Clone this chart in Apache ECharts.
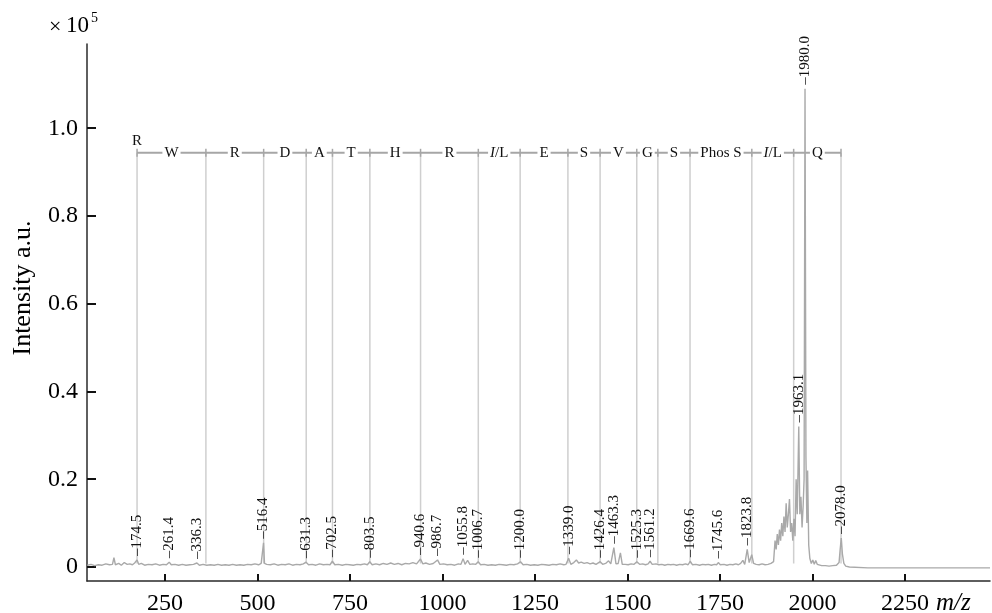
<!DOCTYPE html>
<html>
<head>
<meta charset="utf-8">
<script src="https://cdn.jsdelivr.net/npm/echarts@6/dist/echarts.min.js"></script>
<style>
html, body { margin: 0; padding: 0; background: #fff; }
#main { width: 992px; height: 613px; }
</style>
</head>
<body>
<div id="main"></div>
<script>
// axis ticks: m/z and intensity (x1e5)
var xTicks = [250, 500, 750, 1000, 1250, 1500, 1750, 2000, 2250];
var yTicks = [0, 0.2, 0.4, 0.6, 0.8, 1.0];

// spectrum trace [m/z, intensity x1e5]
var spectrum = [
  [40,0.004],[50,0.006],[60,0.003],[70,0.005],[80,0.004],[90,0.007],[100,0.005],[108,0.006],[112,0.021],[116,0.005],
  [125,0.008],[132,0.004],[140,0.01],[148,0.006],[155,0.007],[162,0.005],[168,0.009],[174.5,0.016],[179,0.006],[186,0.008],
  [195,0.004],[205,0.006],[215,0.005],[225,0.007],[235,0.004],[245,0.006],[254,0.005],[261.4,0.011],[267,0.005],[277,0.006],
  [287,0.004],[297,0.006],[307,0.004],[317,0.005],[327,0.006],[336.3,0.009],[343,0.004],[353,0.006],[363,0.004],[373,0.005],
  [383,0.004],[393,0.006],[403,0.004],[413,0.005],[423,0.004],[433,0.006],[443,0.004],[453,0.005],[463,0.004],[473,0.006],
  [483,0.005],[493,0.007],[503,0.005],[510,0.008],[514,0.01],[516.4,0.055],[519,0.008],[525,0.006],[535,0.005],[545,0.007],
  [555,0.004],[565,0.006],[575,0.005],[585,0.007],[595,0.004],[605,0.006],[615,0.005],[624,0.007],[631.3,0.011],[638,0.005],
  [648,0.006],[658,0.004],[668,0.007],[678,0.005],[688,0.006],[696,0.005],[702.5,0.013],[709,0.005],[719,0.006],[729,0.004],
  [739,0.006],[749,0.005],[759,0.004],[769,0.006],[779,0.005],[789,0.007],[797,0.005],[803.5,0.012],[810,0.005],[820,0.007],
  [830,0.005],[840,0.008],[850,0.006],[860,0.009],[870,0.006],[880,0.008],[890,0.005],[900,0.008],[910,0.007],[920,0.01],
  [930,0.007],[940.6,0.018],[947,0.007],[955,0.009],[965,0.006],[975,0.008],[986.7,0.016],[993,0.006],[1003,0.007],[1013,0.005],
  [1023,0.006],[1033,0.004],[1043,0.007],[1050,0.006],[1055.8,0.019],[1061,0.006],[1068,0.015],[1074,0.006],[1082,0.007],[1090,0.006],
  [1096.7,0.012],[1103,0.005],[1113,0.006],[1123,0.004],[1133,0.005],[1143,0.004],[1153,0.006],[1163,0.005],[1173,0.004],[1183,0.006],
  [1193,0.005],[1203,0.007],[1211,0.012],[1218,0.005],[1228,0.006],[1238,0.004],[1248,0.005],[1258,0.004],[1268,0.006],[1278,0.005],
  [1288,0.004],[1298,0.006],[1308,0.005],[1318,0.007],[1328,0.005],[1334,0.006],[1341,0.02],[1347,0.006],[1355,0.01],[1362,0.016],
  [1368,0.009],[1375,0.011],[1383,0.008],[1391,0.01],[1399,0.007],[1407,0.009],[1415,0.006],[1426.4,0.012],[1433,0.006],[1441,0.008],
  [1449,0.014],[1455,0.007],[1463.3,0.044],[1469,0.007],[1475,0.008],[1481,0.032],[1486,0.006],[1494,0.006],[1502,0.005],[1510,0.007],
  [1518,0.006],[1525.3,0.012],[1533,0.006],[1541,0.007],[1549,0.005],[1556,0.007],[1561.2,0.013],[1567,0.006],[1577,0.007],[1585,0.005],
  [1593,0.006],[1601,0.004],[1609,0.006],[1617,0.005],[1625,0.006],[1633,0.004],[1641,0.006],[1649,0.005],[1657,0.007],[1664,0.005],
  [1669.6,0.013],[1676,0.005],[1685,0.006],[1695,0.004],[1703,0.006],[1711,0.005],[1719,0.006],[1727,0.004],[1735,0.006],[1741,0.005],
  [1745.6,0.01],[1751,0.005],[1761,0.006],[1769,0.004],[1777,0.006],[1785,0.005],[1793,0.007],[1800,0.005],[1806,0.008],[1812,0.015],
  [1817,0.006],[1823.8,0.04],[1829,0.01],[1836,0.028],[1841,0.008],[1848,0.006],[1856,0.005],[1864,0.007],[1872,0.005],[1880,0.006],
  [1888,0.008],[1895,0.012],[1899,0.06],[1902,0.04],[1905,0.075],[1908,0.05],[1911,0.085],[1914,0.06],[1917,0.1],[1920,0.07],
  [1923,0.115],[1926,0.08],[1929,0.145],[1932,0.09],[1935,0.12],[1938,0.155],[1941,0.08],[1944,0.1],[1947,0.06],[1950,0.11],
  [1953,0.07],[1956,0.2],[1959,0.12],[1963.1,0.32],[1966,0.12],[1969,0.16],[1972,0.09],[1975,0.14],[1977.5,0.2],[1980,1.09],
  [1982.5,0.25],[1985,0.1],[1987,0.22],[1990,0.05],[1993,0.02],[1997,0.008],[2001,0.016],[2005,0.006],[2009,0.015],[2013,0.006],
  [2018,0.004],[2025,0.003],[2035,0.003],[2045,0.002],[2055,0.003],[2065,0.004],[2072,0.01],[2075,0.04],[2078,0.066],[2081,0.03],
  [2085,0.008],[2090,0.002],[2100,0],[2150,-0.002],[2480,-0.002]
];

// labelled peaks (where drawn, text as printed)
var peakMz = [174.5, 261.4, 336.3, 516.4, 631.3, 702.5, 803.5, 940.6, 986.7, 1055.8, 1096.7, 1211,
  1341, 1426.4, 1463.3, 1525.3, 1561.2, 1669.6, 1745.6, 1823.8, 1963.1, 1980, 2078];
var peakText = ['174.5', '261.4', '336.3', '516.4', '631.3', '702.5', '803.5', '940.6', '986.7', '1055.8', '1006.7', '1200.0',
  '1339.0', '1426.4', '1463.3', '1525.3', '1561.2', '1669.6', '1745.6', '1823.8', '1963.1', '1980.0', '2078.0'];

// sequence ladder: first residue sits at the start, the others between marks
var ladderMz = [174.5, 360.6, 516.7, 631.7, 702.7, 803.8, 940.8, 1096.9, 1210.0, 1339.1, 1426.1,
  1525.2, 1582.2, 1669.2, 1836.2, 1949.3, 2077.3];
var ladderRes = ['R', 'W', 'R', 'D', 'A', 'T', 'H', 'R', '{i|I}/L', 'E', 'S', 'V', 'G', 'S', 'Phos S', '{i|I}/L', 'Q'];
var ladderLevel = 0.944;

var serif = '"Liberation Serif", "Times New Roman", serif';

function peakTop(mz) {
  var best = spectrum[0];
  for (var i = 0; i < spectrum.length; i++) {
    if (Math.abs(spectrum[i][0] - mz) < Math.abs(best[0] - mz)) best = spectrum[i];
  }
  return best[1];
}

function txt(x, y, s, font, align, rot) {
  return {
    type: 'text', x: x, y: y, rotation: rot || 0,
    style: { text: s, font: font, fill: '#000', textAlign: align, textVerticalAlign: 'middle', align: align, verticalAlign: 'middle' }
  };
}

var chart = echarts.init(document.getElementById('main'));

var option = {
  animation: false,
  backgroundColor: '#fff',
  grid: { left: 87, right: 2, top: 44, bottom: 32, containLabel: false, outerBoundsMode: 'none' },
  xAxis: {
    type: 'value',
    min: 39.2,
    max: 2480,
    axisLine: { onZero: false, lineStyle: { color: '#2a2a2a', width: 1.5 } },
    axisTick: { inside: true, length: 7, customValues: xTicks, lineStyle: { color: '#111', width: 2 } },
    axisLabel: {
      customValues: xTicks, margin: 11, color: '#000', fontSize: 24, fontFamily: serif,
      formatter: function (v) { return String(v); }
    },
    splitLine: { show: false }
  },
  yAxis: {
    type: 'value',
    min: -0.032,
    max: 1.192,
    axisLine: { show: true, onZero: false, lineStyle: { color: '#2a2a2a', width: 1.5 } },
    axisTick: { show: true, inside: true, length: 9, customValues: yTicks, lineStyle: { color: '#111', width: 2 } },
    axisLabel: {
      customValues: yTicks, margin: 9, color: '#000', fontSize: 24, fontFamily: serif,
      formatter: function (v) { return v === 0 ? '0' : v.toFixed(1); }
    },
    splitLine: { show: false }
  },
  graphic: [
    txt(49, 27, '×', '22px ' + serif, 'left'),
    txt(66, 26, '10', '23px ' + serif, 'left'),
    txt(91, 18, '5', '14px ' + serif, 'left'),
    txt(23, 288, 'Intensity a.u.', '26px ' + serif, 'center', Math.PI / 2),
    txt(936, 603, 'm/z', 'italic 25px ' + serif, 'left')
  ],
  series: [
    {
      // ladder drop lines
      type: 'custom',
      z: 1,
      clip: false,
      data: ladderMz.map(function (m) { return [m, ladderLevel]; }),
      renderItem: function (params, api) {
        var top = api.coord([api.value(0), ladderLevel]);
        var bot = api.coord([api.value(0), 0.008]);
        return {
          type: 'line',
          shape: { x1: top[0], y1: top[1], x2: bot[0], y2: bot[1] },
          style: { stroke: '#cfcfcf', lineWidth: 1.5 }
        };
      }
    },
    {
      type: 'line',
      z: 2,
      data: spectrum,
      showSymbol: false,
      lineStyle: { color: '#a9a9a9', width: 1.4 }
    },
    {
      // ladder bar
      type: 'line',
      z: 3,
      data: [[ladderMz[0], ladderLevel], [ladderMz[ladderMz.length - 1], ladderLevel]],
      showSymbol: false,
      lineStyle: { color: '#a6a6a6', width: 2 }
    },
    {
      // ladder marks and residues
      type: 'custom',
      z: 4,
      clip: false,
      data: ladderMz.map(function (m) { return [m, ladderLevel]; }),
      renderItem: function (params, api) {
        var i = params.dataIndex;
        var p = api.coord([ladderMz[i], ladderLevel]);
        var children = [{
          type: 'line',
          shape: { x1: p[0], y1: p[1] - 4, x2: p[0], y2: p[1] + 4 },
          style: { stroke: '#a6a6a6', lineWidth: 1.5 }
        }];
        var tx, ty, va;
        if (i === 0) {
          tx = p[0]; ty = p[1] - 4; va = 'bottom';
        } else {
          var q = api.coord([(ladderMz[i - 1] + ladderMz[i]) / 2, ladderLevel]);
          tx = q[0]; ty = q[1]; va = 'middle';
        }
        children.push({
          type: 'text',
          x: tx, y: ty,
          style: {
            text: ladderRes[i],
            font: '15px ' + serif,
            fill: '#111',
            align: 'center', verticalAlign: va,
            backgroundColor: i === 0 ? null : '#fff',
            padding: [0, 2],
            rich: { i: { font: 'italic 15px ' + serif, fill: '#111' } }
          }
        });
        return { type: 'group', children: children };
      }
    },
    {
      // peak annotations
      type: 'custom',
      z: 5,
      clip: false,
      data: peakMz.map(function (m) { return [m, peakTop(m)]; }),
      renderItem: function (params, api) {
        var p = api.coord([api.value(0), api.value(1)]);
        return {
          type: 'text',
          x: p[0], y: p[1] - 4,
          rotation: Math.PI / 2,
          style: {
            text: '–' + peakText[params.dataIndex],
            font: '15px ' + serif,
            fill: '#111',
            align: 'left', verticalAlign: 'middle'
          }
        };
      }
    }
  ]
};

chart.setOption(option);
</script>
</body>
</html>
